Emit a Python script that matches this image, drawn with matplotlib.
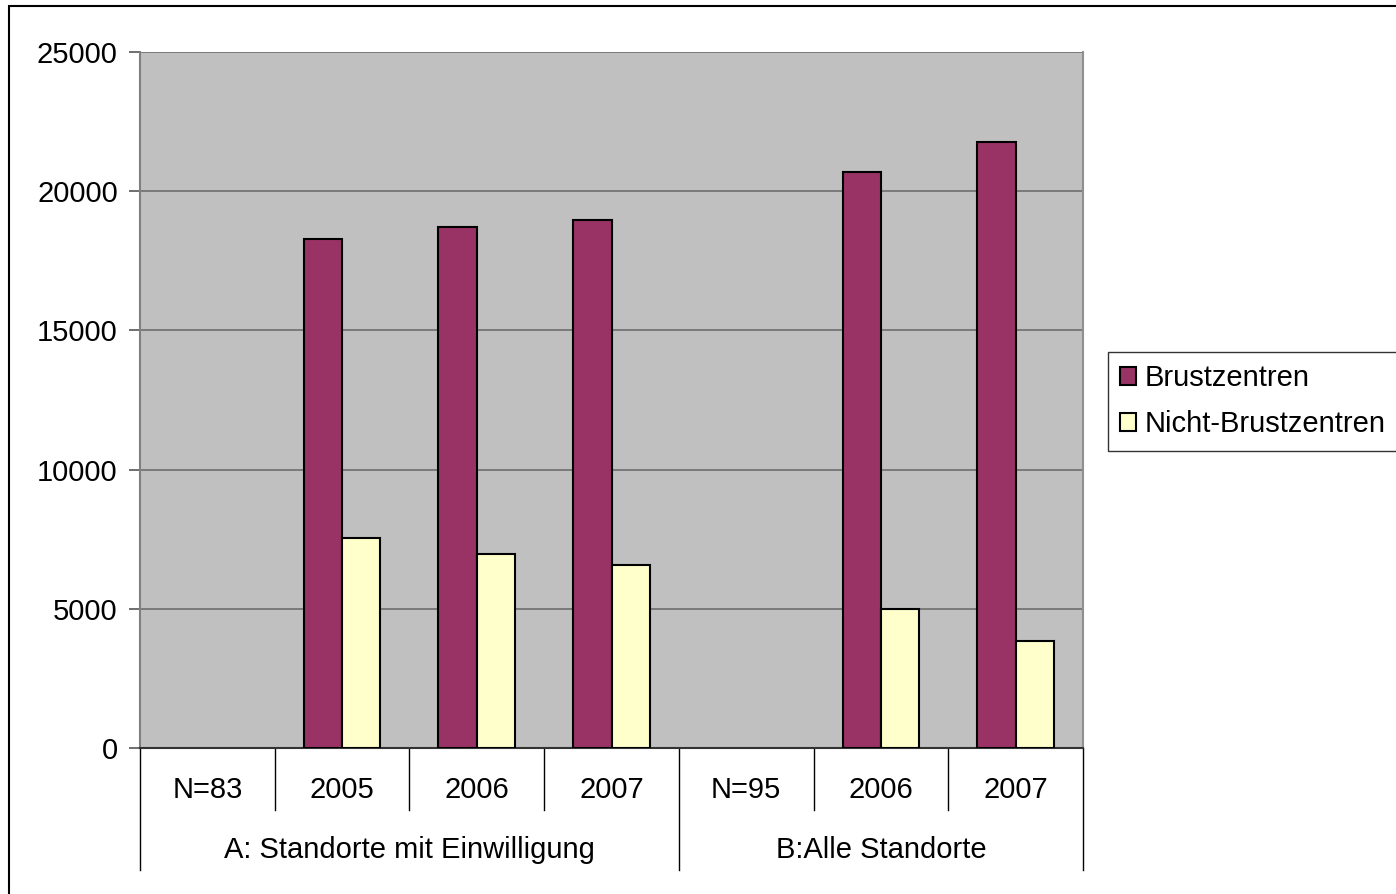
import numpy as np
import matplotlib
matplotlib.use("Agg")
import matplotlib.pyplot as plt
from matplotlib.patches import Rectangle

plt.rcParams["font.family"] = ["Liberation Sans", "DejaVu Sans"]

# data
categories = ["N=83", "2005", "2006", "2007", "N=95", "2006", "2007"]
groups = ["A: Standorte mit Einwilligung", "B:Alle Standorte"]
group_sizes = [4, 3]
brustzentren = [np.nan, 18300, 18700, 18950, np.nan, 20700, 21750]
nicht_brustzentren = [np.nan, 7550, 6980, 6580, np.nan, 5000, 3850]
yticks = [0, 5000, 10000, 15000, 20000, 25000]

FS = 21

fig = plt.figure(figsize=(13.96, 8.94), dpi=100)
W, H = 1396, 894
ax = fig.add_axes([140 / W, 1 - 748 / H, (1083 - 140) / W, (748 - 52) / H])
ax.set_facecolor("#C0C0C0")

x = np.arange(len(categories))
w = 0.285
ax.bar(x - w / 2, brustzentren, w, color="#993366", edgecolor="black",
       linewidth=1.5, label="Brustzentren", zorder=3)
ax.bar(x + w / 2, nicht_brustzentren, w, color="#FFFFCC", edgecolor="black",
       linewidth=1.5, label="Nicht-Brustzentren", zorder=3)

ax.set_xlim(-0.5, len(categories) - 0.5)
ax.set_ylim(0, 25000)
ax.set_yticks(yticks)
ax.set_yticklabels([str(t) for t in yticks], fontsize=FS)
ax.yaxis.grid(True, color="#6e6e6e", linewidth=1.2, zorder=1)
ax.tick_params(axis="y", length=8, width=1.2, color="#555555", pad=8)
ax.set_xticks([])
ax.spines["top"].set_visible(False)
ax.spines["left"].set_color("#808080")
ax.spines["left"].set_linewidth(1.5)
ax.spines["bottom"].set_color("#333333")
ax.spines["bottom"].set_linewidth(1.5)
ax.spines["right"].set_color("#909090")
ax.spines["right"].set_linewidth(1.5)

# category labels and dividers below the axis
trans = ax.get_xaxis_transform()
px = 1 / (748 - 52)
for i, lab in enumerate(categories):
    ax.text(i, -(790 - 748) * px, lab, transform=trans, ha="center",
            va="center", fontsize=FS, clip_on=False)
bounds = np.cumsum([0] + group_sizes)
for b in range(len(categories) + 1):
    bottom = 870 if b in bounds else 810
    ax.plot([b - 0.5, b - 0.5], [0, -(bottom - 748) * px], transform=trans,
            color="black", linewidth=1, clip_on=False)
for g, lab in enumerate(groups):
    center = (bounds[g] + bounds[g + 1] - 1) / 2
    ax.text(center, -(850 - 748) * px, lab, transform=trans, ha="center",
            va="center", fontsize=FS, clip_on=False)

leg = fig.legend(loc="upper left", bbox_to_anchor=(1108 / W, 1 - 352 / H),
                 fontsize=FS, frameon=True, fancybox=False, handlelength=0.55,
                 handleheight=0.55, handletextpad=0.3, labelspacing=0.62,
                 borderpad=0.42, borderaxespad=0)
leg.get_frame().set_edgecolor("black")
leg.get_frame().set_linewidth(1)

fig.patches.append(Rectangle((9 / W, -0.1), 1.2, 1.1 - 6 / H, transform=fig.transFigure,
                             fill=False, edgecolor="black", linewidth=1.5))

fig.savefig("out.png", dpi=100)
